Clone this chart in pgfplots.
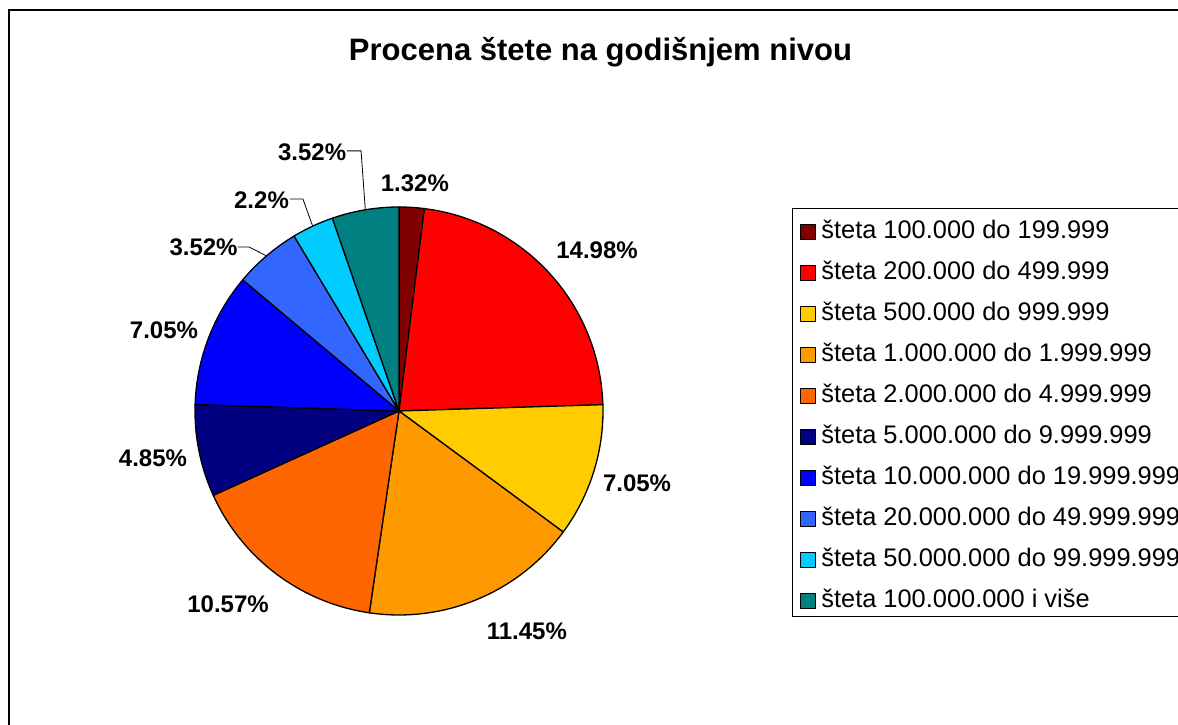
\documentclass[border=0pt]{standalone}
\usepackage{pgfplots}
\pgfplotsset{compat=1.18}
\usepackage{pgfplotstable}
\usepackage{fontspec}
\setmainfont{Liberation Sans}

\definecolor{c1}{HTML}{800000}
\definecolor{c2}{HTML}{FF0000}
\definecolor{c3}{HTML}{FFCC00}
\definecolor{c4}{HTML}{FF9900}
\definecolor{c5}{HTML}{FF6600}
\definecolor{c6}{HTML}{000080}
\definecolor{c7}{HTML}{0000FF}
\definecolor{c8}{HTML}{3366FF}
\definecolor{c9}{HTML}{00CCFF}
\definecolor{c10}{HTML}{008080}

\pgfplotstableread{
value col
1.32 c1
14.98 c2
7.05 c3
11.45 c4
10.57 c5
4.85 c6
7.05 c7
3.52 c8
2.2 c9
3.52 c10
}\piedata

\begin{document}
\begin{tikzpicture}
\useasboundingbox[fill=white] (0,0) rectangle (1178pt,725pt);
\begin{scope}[overlay]
\begin{axis}[
  at={(0,0)}, anchor=south west,
  scale only axis, width=1178pt, height=725pt,
  xmin=-1.95588, xmax=3.81863, ymin=-1.53922, ymax=2.01471,
  hide axis, clip=false,
  legend entries={šteta 100.000 do 199.999,šteta 200.000 do 499.999,šteta 500.000 do 999.999,šteta 1.000.000 do 1.999.999,šteta 2.000.000 do 4.999.999,šteta 5.000.000 do 9.999.999,šteta 10.000.000 do 19.999.999,šteta 20.000.000 do 49.999.999,šteta 50.000.000 do 99.999.999,šteta 100.000.000 i više},
  legend image code/.code={\draw[#1, line width=1pt] (0pt,-11.5pt) rectangle (15pt,3.5pt);},
  legend style={at={(axis cs:1.926,0.995)}, anchor=north west, draw=black, line width=1pt,
    font=\fontsize{25.4}{30}\selectfont, inner xsep=8pt, inner ysep=6pt,
    row sep=14pt, cells={anchor=west},
    nodes={inner xsep=5pt, inner ysep=2pt, text height=22pt, text depth=1pt}},
]
\pgfmathsetmacro\pietotal{0}
\pgfplotsforeachungrouped \i in {0,...,9}{%
  \pgfplotstablegetelem{\i}{value}\of\piedata
  \pgfmathsetmacro\pietotal{\pietotal+\pgfplotsretval}%
}
\pgfmathsetmacro\piecum{0}
\pgfplotsforeachungrouped \i in {0,...,9}{%
  \pgfplotstablegetelem{\i}{value}\of\piedata
  \let\sliceval\pgfplotsretval
  \pgfplotstablegetelem{\i}{col}\of\piedata
  \let\slicecol\pgfplotsretval
  \pgfmathsetmacro\fracA{(\piecum+\sliceval)/\pietotal}%
  \pgfmathsetmacro\fracB{\piecum/\pietotal}%
  \pgfmathsetmacro\angA{90-360*\fracA}%
  \pgfmathsetmacro\angB{90-360*\fracB}%
  \pgfmathsetmacro\piecum{\piecum+\sliceval}%
  \edef\doslice{\noexpand\addplot[fill=\slicecol, draw=black, line width=1.3pt, line join=round, domain=\angA:\angB, samples=60, variable=\noexpand\t]
    ({cos(\noexpand\t)},{sin(\noexpand\t)}) -- (axis cs:0,0) -- cycle;}%
  \doslice
}
\begin{scope}[every node/.style={font=\bfseries\fontsize{24}{28}\selectfont}]
\node at (axis cs:0.078,1.118) {1.32\%};
\node at (axis cs:0.971,0.789) {14.98\%};
\node at (axis cs:1.167,-0.353) {7.05\%};
\node at (axis cs:0.627,-1.078) {11.45\%};
\node at (axis cs:-0.838,-0.946) {10.57\%};
\node at (axis cs:-1.206,-0.230) {4.85\%};
\node at (axis cs:-1.152,0.397) {7.05\%};
\node at (axis cs:-0.958,0.804) {3.52\%};
\node at (axis cs:-0.674,1.034) {2.2\%};
\node at (axis cs:-0.426,1.270) {3.52\%};
\end{scope}
\draw[line width=0.8pt] (axis cs:-0.255,1.275) -- (axis cs:-0.186,1.275) -- (axis cs:-0.165,0.986);
\draw[line width=0.8pt] (axis cs:-0.534,1.039) -- (axis cs:-0.471,1.039) -- (axis cs:-0.423,0.906);
\draw[line width=0.8pt] (axis cs:-0.789,0.804) -- (axis cs:-0.735,0.804) -- (axis cs:-0.649,0.760);
\end{axis}
\draw[line width=1.2pt] (9pt,-50pt) -- (9pt,715pt) -- (1250pt,715pt);
\node[font=\bfseries\fontsize{31}{36}\selectfont] at (600.5pt,673pt) {Procena štete na godišnjem nivou};
\end{scope}
\end{tikzpicture}
\end{document}
